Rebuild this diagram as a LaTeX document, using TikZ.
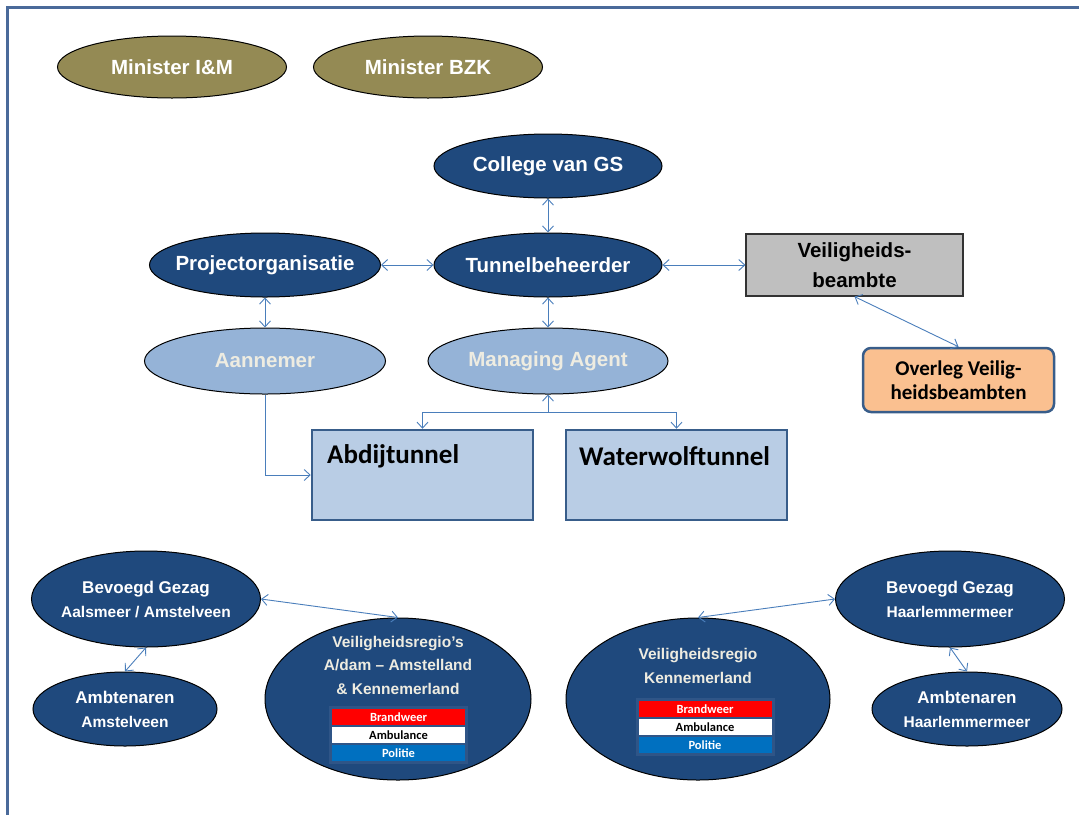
\documentclass[tikz,border=0pt]{standalone}
\usepackage{fontspec}
\setmainfont{Liberation Sans}
\newfontfamily\calibri{Carlito}
\usetikzlibrary{arrows.meta,shapes.geometric}
\definecolor{darkblue}{HTML}{1F497D}
\definecolor{lightblue}{HTML}{95B3D7}
\definecolor{paleblue}{HTML}{B9CDE5}
\definecolor{edgeblue}{HTML}{385D8A}
\definecolor{linkblue}{HTML}{4A7EBB}
\definecolor{minolive}{HTML}{948A54}
\definecolor{beige}{HTML}{EEECE1}
\definecolor{peach}{HTML}{FAC090}
\definecolor{boxgrey}{HTML}{BFBFBF}
\definecolor{politieblue}{HTML}{0070C0}
\definecolor{brandred}{HTML}{FF0000}
\definecolor{tableframe}{HTML}{2F5587}
\definecolor{frameblue}{HTML}{4A6A9A}
\tikzset{
  ell/.style={ellipse, draw=black, line width=1pt, inner xsep=-12pt, inner ysep=0pt, align=center, font=\bfseries\fontsize{20.5}{24}\selectfont},
  minister/.style={ell, fill=minolive, text=white, minimum width=229pt, minimum height=62pt},
  dark/.style={ell, fill=darkblue, text=white, minimum height=64pt},
  light/.style={ell, fill=lightblue, text=beige, minimum height=66pt},
  darksmall/.style={ell, fill=darkblue, text=white, font=\bfseries\fontsize{15.5}{24}\selectfont},
  regiontxt/.style={text=beige, align=center, inner sep=0pt, font=\bfseries\fontsize{15.5}{23.5}\selectfont},
  greybox/.style={rectangle, draw=black!80, line width=1.2pt, fill=boxgrey, minimum width=217pt, minimum height=62pt, align=center, font=\bfseries\fontsize{20.5}{30}\selectfont},
  peachbox/.style={rectangle, rounded corners=8pt, draw=edgeblue, line width=2.5pt, fill=peach, minimum width=191pt, minimum height=64pt, align=center, font=\calibri\bfseries\fontsize{21}{24}\selectfont},
  tunnel/.style={rectangle, draw=edgeblue, line width=2.5pt, fill=paleblue, minimum width=221pt, minimum height=90pt},
  tunneltxt/.style={inner sep=0pt, font=\calibri\bfseries\fontsize{27}{30}\selectfont},
  tblframe/.style={rectangle, fill=tableframe, minimum width=139pt, minimum height=58pt, inner sep=0pt},
  tblrow/.style={rectangle, minimum width=133pt, minimum height=16pt, inner sep=0pt, font=\calibri\bfseries\fontsize{12.5}{14}\selectfont},
  link/.style={draw=linkblue, line width=0.9pt, >={Straight Barb[length=6pt,width=11pt]}},
}

\begin{document}
\begin{tikzpicture}[x=1pt, y=-1pt]
	%%%%% START %%%%%
	\useasboundingbox (0,0) rectangle (1079,815);
	\draw[line width=3pt, color=frameblue] (1079,7) -- (7,7) -- (7,815);

	\node[minister] (minIM) at (172,67) {Minister I\&M};
	\node[minister] (minBZK) at (428,67) {Minister BZK};

	\node[dark, minimum width=228pt] (gs) at (548,166) {College van GS};
	\node[dark, minimum width=231pt] (proj) at (265,265) {Projectorganisatie};
	\node[dark, minimum width=228pt] (tb) at (548,265) {Tunnelbeheerder};
	\node[light, minimum width=241pt] (ann) at (265,361) {Aannemer};
	\node[light, minimum width=240pt] (ma) at (548,361) {Managing Agent};

	\node[greybox] (vb) at (854.5,265) {Veiligheids-\\beambte};
	\node[peachbox] (ovl) at (958.5,380) {Overleg Veilig-\\heidsbeambten};

	\node[tunnel] (abd) at (422.5,475) {};
	\node[tunnel] (ww) at (676.5,475) {};
	\node[tunneltxt, anchor=west] (abdtxt) at (327,456) {Abdijtunnel};
	\node[tunneltxt, anchor=west] (wwtxt) at (579,456) {Waterwolftunnel};

	\draw[link, <->] (gs) -- (tb);
	\draw[link, <->] (proj) -- (tb);
	\draw[link, <->] (tb) -- (vb);
	\draw[link, <->] (proj) -- (ann);
	\draw[link, <->] (tb) -- (ma);
	\draw[link, <->] (vb.south) -- (ovl.north);
	\draw[link, ->] (ann) |- (abd);
	\coordinate (split) at (548,412);
	\draw[link, <-] (ma) -- (split);
	\draw[link, ->] (split) -| (abd);
	\draw[link, ->] (split) -| (ww);

	% bottom: gemeenten en veiligheidsregio's
	\node[darksmall, minimum width=229pt, minimum height=96pt] (bgA) at (146,599) {{\fontsize{17}{24}\selectfont Bevoegd Gezag}\\Aalsmeer / Amstelveen};
	\node[darksmall, minimum width=184pt, minimum height=74pt] (ambA) at (125,709) {{\fontsize{17}{25}\selectfont Ambtenaren}\\Amstelveen};
	\node[darksmall, minimum width=229pt, minimum height=96pt] (bgH) at (950,599) {{\fontsize{17}{24}\selectfont Bevoegd Gezag}\\Haarlemmermeer};
	\node[darksmall, minimum width=190pt, minimum height=74pt] (ambH) at (967,709) {{\fontsize{17}{25}\selectfont Ambtenaren}\\Haarlemmermeer};

	\node[darksmall, minimum width=266pt, minimum height=162pt] (vrA) at (398,699) {};
	\node[regiontxt] (vrAtxt) at (398,665) {Veiligheidsregio’s\\A/dam – Amstelland\\\& Kennemerland};
	\node[tblframe] (vrAtab) at (398.5,735) {};
	\node[tblrow, fill=brandred, text=white] (vrAbw) at (398.5,717) {Brandweer};
	\node[tblrow, fill=white, text=black] (vrAamb) at (398.5,735) {Ambulance};
	\node[tblrow, fill=politieblue, text=white] (vrApol) at (398.5,753) {Politie};

	\node[darksmall, minimum width=264pt, minimum height=162pt] (vrK) at (698,699) {};
	\node[regiontxt] (vrKtxt) at (698,666) {Veiligheidsregio\\Kennemerland};
	\node[tblframe] (vrKtab) at (705,727) {};
	\node[tblrow, fill=brandred, text=white] (vrKbw) at (705,709) {Brandweer};
	\node[tblrow, fill=white, text=black] (vrKamb) at (705,727) {Ambulance};
	\node[tblrow, fill=politieblue, text=white] (vrKpol) at (705,745) {Politie};

	\draw[link, <->] (bgA.east) -- (vrA.north);
	\draw[link, <->] (bgA.south) -- (ambA.north);
	\draw[link, <->] (vrK.north) -- (bgH.west);
	\draw[link, <->] (bgH.south) -- (ambH.north);
	%%%%% END %%%%%
\end{tikzpicture}
\end{document}
